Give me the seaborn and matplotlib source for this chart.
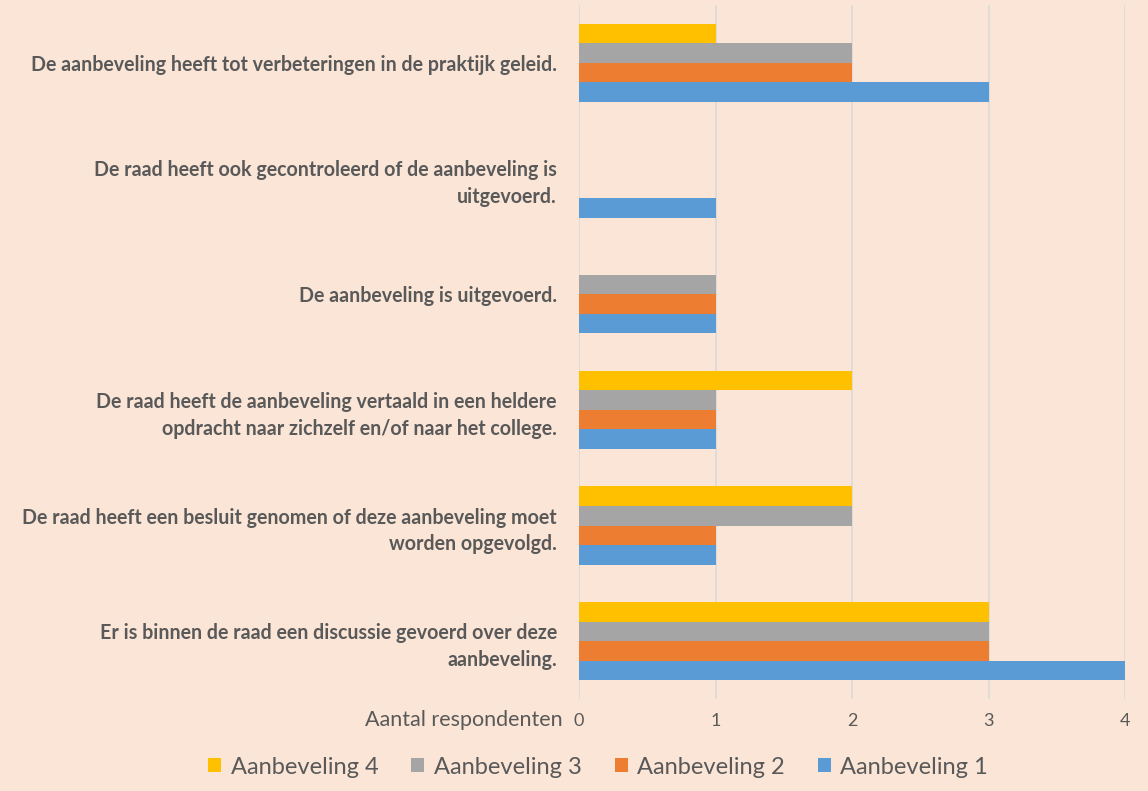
import matplotlib
matplotlib.use("Agg")
import matplotlib.pyplot as plt
import seaborn as sns
import pandas as pd
from matplotlib.patches import Patch

categories = [
    "De aanbeveling heeft tot verbeteringen in de praktijk geleid.",
    "De raad heeft ook gecontroleerd of de aanbeveling is\nuitgevoerd.",
    "De aanbeveling is uitgevoerd.",
    "De raad heeft de aanbeveling vertaald in een heldere\nopdracht naar zichzelf en/of naar het college.",
    "De raad heeft een besluit genomen of deze aanbeveling moet\nworden opgevolgd.",
    "Er is binnen de raad een discussie gevoerd over deze\naanbeveling.",
]
series_names = ["Aanbeveling 4", "Aanbeveling 3", "Aanbeveling 2", "Aanbeveling 1"]
aanbeveling_4 = [1, 0, 0, 2, 2, 3]
aanbeveling_3 = [2, 0, 1, 1, 2, 3]
aanbeveling_2 = [2, 0, 1, 1, 1, 3]
aanbeveling_1 = [3, 1, 1, 1, 1, 4]
x_ticks = [0, 1, 2, 3, 4]
x_label = "Aantal respondenten"

colors = ["#FFC000", "#A5A5A5", "#ED7D31", "#5B9BD5"]
bg = "#FBE5D6"

rows = []
for name, vals in zip(series_names, [aanbeveling_4, aanbeveling_3, aanbeveling_2, aanbeveling_1]):
    for c, v in zip(categories, vals):
        rows.append({"cat": c, "series": name, "value": v})
df = pd.DataFrame(rows)

sns.set_theme(style="white")
plt.rcParams['font.family'] = ['Lato', 'DejaVu Sans']

fig = plt.figure(figsize=(11.48, 7.91), dpi=100, facecolor=bg)
ax = fig.add_axes([579/1148, 1 - 699/791, (1125-579)/1148, (699-5)/791])
ax.set_facecolor(bg)

sns.barplot(data=df, y="cat", x="value", hue="series", order=categories,
            hue_order=series_names, palette=colors, orient="h", width=0.675,
            saturation=1, ax=ax, legend=False, edgecolor="none", linewidth=0)

ax.set_xlim(0, 4)
ax.set_xticks(x_ticks)
ax.set_xticklabels([str(t) for t in x_ticks], fontsize=13, color="#595959")
ax.xaxis.grid(True, color="#D9D9D9", linewidth=1.2)
ax.set_axisbelow(True)
for s in ax.spines.values():
    s.set_visible(False)
ax.tick_params(axis="x", length=0, pad=10)
ax.tick_params(axis="y", length=0, pad=16)
ax.set_ylabel("")
ax.set_xlabel("")
for lbl in ax.get_yticklabels():
    lbl.set_fontweight("bold")
    lbl.set_fontsize(14.1)
    lbl.set_color("#595959")
    lbl.set_horizontalalignment("right")
    lbl.set_linespacing(1.42)

fig.text(563/1148, 1 - 720/791, x_label, ha="right", va="center",
         fontsize=15.5, color="#595959")

handles = [Patch(facecolor=c, edgecolor="none", label=n) for c, n in zip(colors, series_names)]
fig.legend(handles=handles, loc="center", bbox_to_anchor=(598/1148, 1 - 767/791),
           ncol=4, frameon=False, fontsize=17, labelcolor="#595959",
           handlelength=0.55, handleheight=0.55, handletextpad=0.4, columnspacing=1.4)

fig.savefig("out.png", dpi=100, facecolor=bg)
